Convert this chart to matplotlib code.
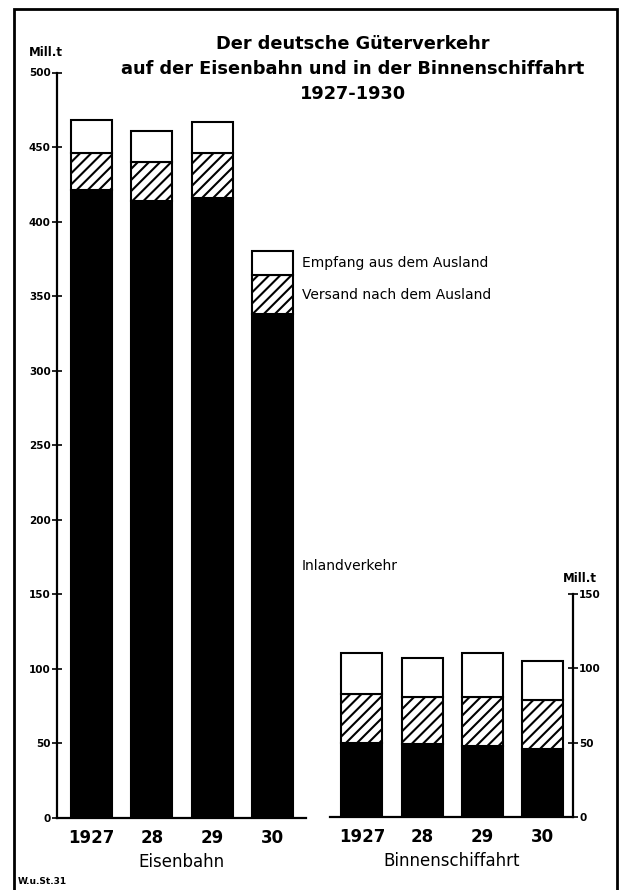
import numpy as np
import matplotlib
matplotlib.use("Agg")
import matplotlib.pyplot as plt
from matplotlib.patches import Rectangle

plt.rcParams['font.family'] = ['DejaVu Sans']
plt.rcParams['hatch.linewidth'] = 1.5

# data (Mill. t)
years = ['1927', '28', '29', '30']
inland_eisen = [421, 414, 416, 338]
versand_eisen = [25, 26, 30, 26]
empfang_eisen = [22, 21, 21, 16]
inland_binnen = [50, 49, 48, 46]
versand_binnen = [32.5, 31.5, 32.5, 32.5]
empfang_binnen = [27.5, 26.5, 29.5, 26.5]

W, H = 621, 890
fig = plt.figure(figsize=(W / 100, H / 100), dpi=100)


def px_axes(x0, x1, ytop, ybot):
    return fig.add_axes([x0 / W, 1 - ybot / H, (x1 - x0) / W, (ybot - ytop) / H])


ax1 = px_axes(57, 306, 72.5, 818)
ax2 = px_axes(330, 573, 594, 817)

bar_w = 0.68


def draw_bars(ax, inland, versand, empfang):
    x = np.arange(len(inland))
    inland = np.array(inland)
    versand = np.array(versand)
    empfang = np.array(empfang)
    ax.bar(x, inland, bar_w, color='black', edgecolor='black', lw=1.5)
    ax.bar(x, versand, bar_w, bottom=inland, color='white', edgecolor='black',
           hatch='///', lw=1.5)
    ax.bar(x, empfang, bar_w, bottom=inland + versand, color='white',
           edgecolor='black', lw=1.5)
    ax.set_xticks(x)
    ax.set_xticklabels(years, fontsize=12, fontweight='bold')
    ax.tick_params(axis='x', length=0, pad=8)
    for s in ax.spines.values():
        s.set_linewidth(1.6)


draw_bars(ax1, inland_eisen, versand_eisen, empfang_eisen)
draw_bars(ax2, inland_binnen, versand_binnen, empfang_binnen)

ax1.set_xlim(-0.57, 3.55)
ax1.set_ylim(0, 500)
ax1.set_yticks(np.arange(0, 501, 50))
ax1.spines[['top', 'right']].set_visible(False)
ax1.tick_params(axis='y', direction='inout', length=7, width=1.2,
                labelsize=7.5, pad=1)
for lbl in ax1.get_yticklabels():
    lbl.set_fontweight('bold')
ax1.set_xlabel('Eisenbahn', fontsize=12, labelpad=4)

ax2.set_xlim(-0.53, 3.5)
ax2.set_ylim(0, 150)
ax2.set_yticks([0, 50, 100, 150])
ax2.spines[['top', 'left']].set_visible(False)
ax2.yaxis.tick_right()
ax2.tick_params(axis='y', direction='inout', length=7, width=1.2,
                labelsize=7.5, pad=1)
for lbl in ax2.get_yticklabels():
    lbl.set_fontweight('bold')
ax2.set_xlabel('Binnenschiffahrt', fontsize=12, labelpad=4)

# labels on the 1930 railway bar serve as legend
i = 3
tx = i + bar_w / 2 + 0.14
ax1.text(tx, inland_eisen[i] + versand_eisen[i] + empfang_eisen[i] / 2,
         'Empfang aus dem Ausland', fontsize=10, va='center')
ax1.text(tx, inland_eisen[i] + versand_eisen[i] / 2,
         'Versand nach dem Ausland', fontsize=10, va='center')
ax1.text(tx, inland_eisen[i] / 2, 'Inlandverkehr', fontsize=10, va='center')

# unit labels
fig.text(46 / W, 1 - 53 / H, 'Mill.t', fontsize=8.5, fontweight='bold',
         ha='center', va='center')
fig.text(580 / W, 1 - 578 / H, 'Mill.t', fontsize=8.5, fontweight='bold',
         ha='center', va='center')

# title
fig.text(353 / W, 1 - 44 / H, 'Der deutsche Güterverkehr', fontsize=12.8,
         fontweight='bold', ha='center', va='center')
fig.text(353 / W, 1 - 69 / H, 'auf der Eisenbahn und in der Binnenschiffahrt',
         fontsize=12.8, fontweight='bold', ha='center', va='center')
fig.text(353 / W, 1 - 94 / H, '1927-1930', fontsize=12.8,
         fontweight='bold', ha='center', va='center')

fig.text(18 / W, 1 - 882 / H, 'W.u.St.31', fontsize=6.5, fontweight='bold',
         ha='left', va='center')

# outer frame
fig.add_artist(Rectangle((14 / W, -0.05), (617 - 14) / W, 1.05 - 9 / H,
                         transform=fig.transFigure, fill=False,
                         edgecolor='black', lw=2))

fig.savefig('out.png', dpi=100)
